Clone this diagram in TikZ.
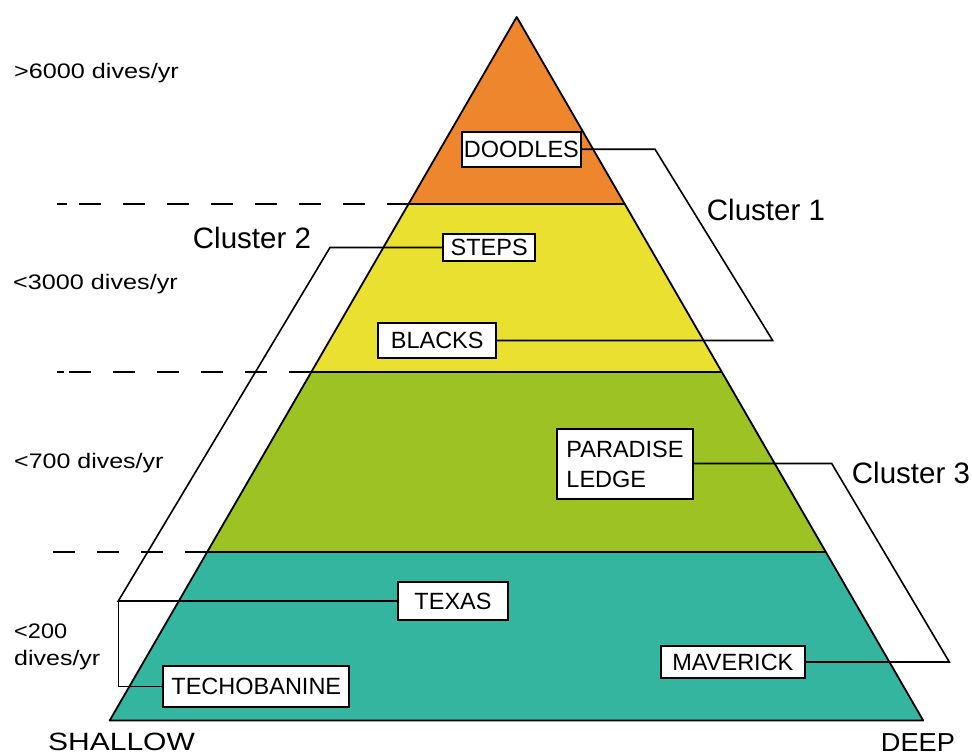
\documentclass[tikz,border=0pt]{standalone}
\usepackage{fontspec}
\setmainfont{Liberation Sans}
\usepackage{graphicx}
\definecolor{corange}{RGB}{238,134,46}
\definecolor{cyellow}{RGB}{234,224,48}
\definecolor{cgreen}{RGB}{157,194,36}
\definecolor{cteal}{RGB}{52,181,160}
\tikzset{
  band/.style={draw=black, line width=1.8pt, line join=round},
  dashline/.style={line width=1.5pt, dash pattern=on 22pt off 22pt},
  shortdash/.style={line width=1.5pt},
  conn/.style={line width=1.6pt, line join=miter},
  site/.style={draw=black, fill=white, line width=1.8pt, inner sep=0pt, align=center,
    font=\fontsize{23.5}{30}\selectfont},
  plain/.style={inner sep=0pt, anchor=base west},
  clus/.style={plain, font=\fontsize{29.5}{34}\selectfont},
}
\newcommand\hs[2]{\scalebox{#1}[1]{#2}}
\begin{document}
\begin{tikzpicture}[x=1pt, y=-1pt]
\useasboundingbox (0,0) rectangle (972,755);
% pyramid corners
\coordinate (apex) at (516.7,17);
\coordinate (l1) at (408.5,204);
\coordinate (r1) at (624.9,204);
\coordinate (l2) at (311.3,372);
\coordinate (r2) at (722.1,372);
\coordinate (l3) at (207.2,552);
\coordinate (r3) at (826.2,552);
\coordinate (bl) at (109.7,720.5);
\coordinate (br) at (923.2,720.5);
% bands
\fill[corange] (apex) -- (r1) -- (l1) -- cycle;
\fill[cyellow] (l1) -- (r1) -- (r2) -- (l2) -- cycle;
\fill[cgreen] (l2) -- (r2) -- (r3) -- (l3) -- cycle;
\fill[cteal] (l3) -- (r3) -- (br) -- (bl) -- cycle;
\draw[band] (l1) -- (r1) (l2) -- (r2) (l3) -- (r3);
\draw[band] (apex) -- (br) -- (bl) -- cycle;
% dashed level lines
\coordinate (d1) at (77,204);
\coordinate (d2) at (69,372);
\coordinate (d3) at (53,552);
\draw[dashline] (l1) -- (d1);
\draw[dashline] (l2) -- (d2);
\draw[dashline] (l3) -- (d3);
\coordinate (e1a) at (57,204);  \coordinate (e1b) at (67,204);
\coordinate (e2a) at (57,372);  \coordinate (e2b) at (64,372);
\draw[shortdash] (e1a) -- (e1b);
\draw[shortdash] (e2a) -- (e2b);
% site boxes
\node[site, minimum width=119.3pt, minimum height=35pt] (doodles) at (521.4,149.2) {DOODLES};
\node[site, minimum width=91.7pt, minimum height=27pt] (steps) at (489.2,247.5) {STEPS};
\node[site, minimum width=117.7pt, minimum height=35pt] (blacks) at (437.2,340.5) {BLACKS};
\node[site, minimum width=135.4pt, minimum height=70.7pt, align=left] (paradise) at (625,464) {PARADISE\\LEDGE};
\node[site, minimum width=110.6pt, minimum height=38.3pt] (texas) at (453,601) {TEXAS};
\node[site, minimum width=186pt, minimum height=40.6pt] (techo) at (256.3,686.5) {TECHOBANINE};
\node[site, minimum width=144.3pt, minimum height=32.6pt] (maverick) at (732.9,662) {MAVERICK};
% cluster connectors
\coordinate (c1a) at (655,149.3);
\coordinate (c1b) at (772.7,340.5);
\coordinate (c2a) at (330,247.5);
\coordinate (c2b) at (118.3,601);
\coordinate (c3a) at (831.7,463.5);
\coordinate (c3b) at (949.3,662);
\draw[conn] (doodles.east) -- (doodles.east -| c1a) -- (c1b) -- (blacks.east -| c1b) -- (blacks.east);
\draw[conn] (steps.west) -- (steps.west -| c2a) -- (c2b) -- (texas.west -| c2b) -- (texas.west);
\draw[conn] (c2b) -- (techo.west -| c2b) -- (techo.west);
\draw[conn] (paradise.east |- c3a) -- (c3a) -- (c3b) -- (maverick.east |- c3b) -- (maverick.east);
% redraw boxes above connectors
\node[site, minimum width=119.3pt, minimum height=35pt] at (doodles) {DOODLES};
\node[site, minimum width=91.7pt, minimum height=27pt] at (steps) {STEPS};
\node[site, minimum width=117.7pt, minimum height=35pt] at (blacks) {BLACKS};
\node[site, minimum width=135.4pt, minimum height=70.7pt, align=left] at (paradise) {PARADISE\\LEDGE};
\node[site, minimum width=110.6pt, minimum height=38.3pt] at (texas) {TEXAS};
\node[site, minimum width=186pt, minimum height=40.6pt] at (techo) {TECHOBANINE};
\node[site, minimum width=144.3pt, minimum height=32.6pt] at (maverick) {MAVERICK};
% cluster labels
\node[clus] (cl1) at (706.7,220) {Cluster 1};
\node[clus] (cl2) at (192.7,248.3) {Cluster 2};
\node[clus] (cl3) at (851.7,483.3) {Cluster 3};
% level labels
\node[plain] (lv1) at (14,78) {\hs{1.2}{\fontsize{21}{26}\selectfont >6000 dives/yr}};
\node[plain] (lv2) at (13,289) {\hs{1.2}{\fontsize{21}{26}\selectfont <3000 dives/yr}};
\node[plain] (lv3) at (14,468) {\hs{1.19}{\fontsize{21}{26}\selectfont <700 dives/yr}};
\node[plain] (lv4a) at (14,638) {\hs{1.12}{\fontsize{21}{26}\selectfont <200}};
\node[plain] (lv4b) at (14,665) {\hs{1.19}{\fontsize{21}{26}\selectfont dives/yr}};
% axis labels
\node[plain] (shallow) at (48,750) {\hs{1.2}{\fontsize{25}{30}\selectfont SHALLOW}};
\node[plain] (deep) at (880.7,751.5) {\hs{1.045}{\fontsize{26}{30}\selectfont DEEP}};
\end{tikzpicture}
\end{document}
